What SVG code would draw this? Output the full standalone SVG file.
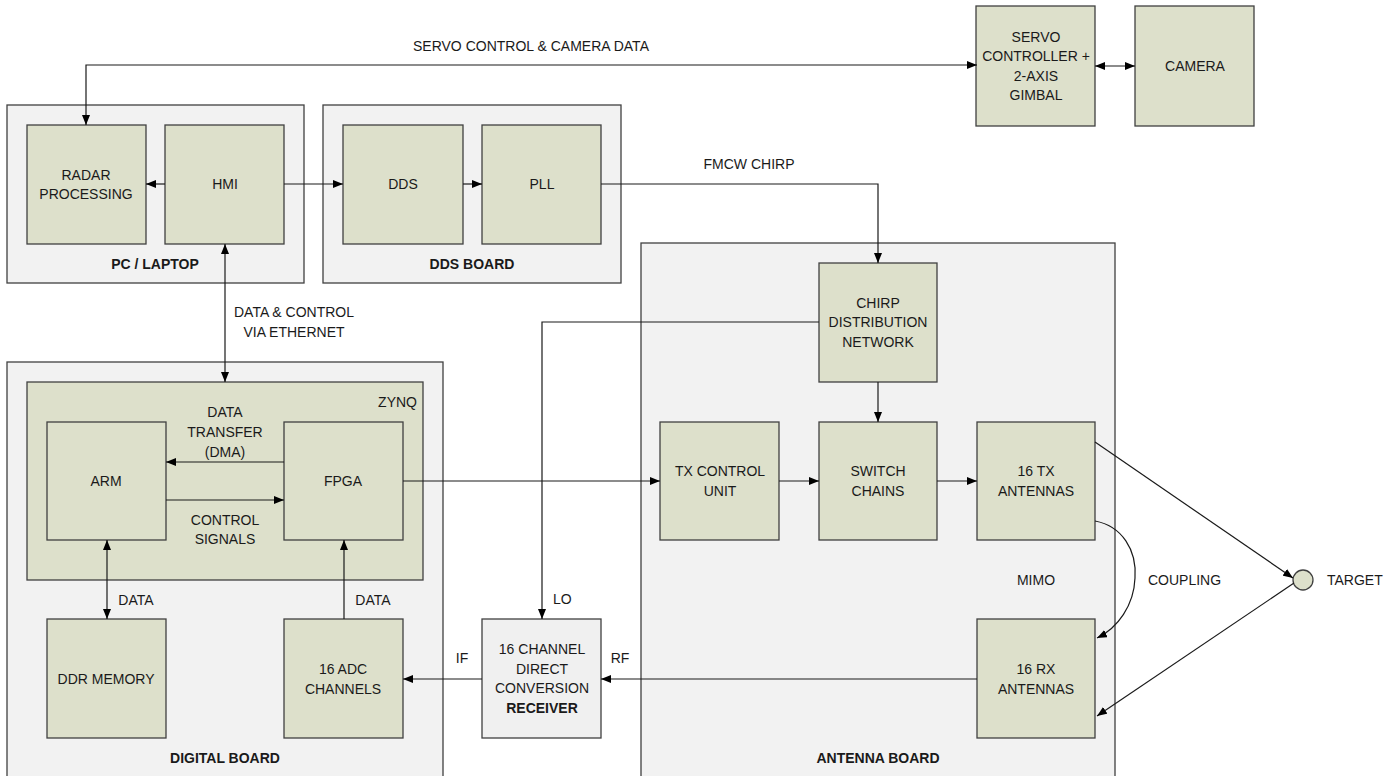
<svg xmlns="http://www.w3.org/2000/svg" width="1393" height="776" viewBox="0 0 1393 776">
<style>
.bg{fill:#f2f2f2;stroke:#404040;stroke-width:1.3}
.nd{fill:#dde0cb;stroke:#404040;stroke-width:1.3}
.rx{fill:#f0f0f0;stroke:#404040;stroke-width:1.3}
text{font-family:"Liberation Sans",Arial,sans-serif;font-size:14px;fill:#1a1a1a;text-anchor:middle}
.b{font-weight:bold}
.l{text-anchor:start}
.r{text-anchor:end}
.c{fill:none;stroke:#1a1a1a;stroke-width:1.2}
</style>
<defs>
<marker id="a" viewBox="0 0 10 8" refX="10" refY="4" markerWidth="10" markerHeight="8" markerUnits="userSpaceOnUse" orient="auto-start-reverse">
<path d="M0,0 L10,4 L0,8 z" fill="#000"/>
</marker>
</defs>
<rect width="1393" height="776" fill="#fff"/>

<g id="pc-laptop">
<rect class="bg" x="7" y="105" width="297" height="178"/>
<text class="b" x="155" y="269">PC / LAPTOP</text>
</g>
<g id="dds-board">
<rect class="bg" x="323" y="105" width="298" height="178"/>
<text class="b" x="472" y="269">DDS BOARD</text>
</g>
<g id="digital-board">
<rect class="bg" x="7" y="362" width="436" height="420"/>
<text class="b" x="225" y="763">DIGITAL BOARD</text>
</g>
<g id="antenna-board">
<rect class="bg" x="641" y="243" width="474" height="540"/>
<text class="b" x="878" y="763">ANTENNA BOARD</text>
<text x="1036" y="585">MIMO</text>
</g>
<g id="zynq">
<rect class="nd" x="27" y="382" width="396" height="198"/>
<text class="r" x="417" y="407">ZYNQ</text>
</g>

<g id="radar-processing">
<rect class="nd" x="27" y="125" width="119" height="119"/>
<text x="86" y="180">RADAR</text>
<text x="86" y="199">PROCESSING</text>
</g>
<g id="hmi">
<rect class="nd" x="165" y="125" width="119" height="119"/>
<text x="225" y="189">HMI</text>
</g>
<g id="dds">
<rect class="nd" x="343" y="125" width="120" height="119"/>
<text x="403" y="189">DDS</text>
</g>
<g id="pll">
<rect class="nd" x="482" y="125" width="119" height="119"/>
<text x="542" y="189">PLL</text>
</g>
<g id="servo">
<rect class="nd" x="976" y="6" width="119" height="120"/>
<text x="1036" y="42">SERVO</text>
<text x="1036" y="61">CONTROLLER +</text>
<text x="1036" y="81">2-AXIS</text>
<text x="1036" y="100">GIMBAL</text>
</g>
<g id="camera">
<rect class="nd" x="1135" y="6" width="119" height="120"/>
<text x="1195" y="71">CAMERA</text>
</g>
<g id="arm">
<rect class="nd" x="47" y="422" width="119" height="118"/>
<text x="106" y="486">ARM</text>
</g>
<g id="fpga">
<rect class="nd" x="284" y="422" width="119" height="118"/>
<text x="343" y="486">FPGA</text>
</g>
<g id="ddr-memory">
<rect class="nd" x="47" y="619" width="119" height="119"/>
<text x="106" y="684">DDR MEMORY</text>
</g>
<g id="adc">
<rect class="nd" x="284" y="619" width="119" height="119"/>
<text x="343" y="674">16 ADC</text>
<text x="343" y="694">CHANNELS</text>
</g>
<g id="receiver">
<rect class="rx" x="482" y="619" width="119" height="119"/>
<text x="542" y="654">16 CHANNEL</text>
<text x="542" y="674">DIRECT</text>
<text x="542" y="693">CONVERSION</text>
<text class="b" x="542" y="713">RECEIVER</text>
</g>
<g id="chirp-distribution">
<rect class="nd" x="819" y="263" width="118" height="119"/>
<text x="878" y="308">CHIRP</text>
<text x="878" y="327">DISTRIBUTION</text>
<text x="878" y="347">NETWORK</text>
</g>
<g id="tx-control">
<rect class="nd" x="660" y="422" width="119" height="118"/>
<text x="720" y="476">TX CONTROL</text>
<text x="720" y="496">UNIT</text>
</g>
<g id="switch-chains">
<rect class="nd" x="819" y="422" width="118" height="118"/>
<text x="878" y="476">SWITCH</text>
<text x="878" y="496">CHAINS</text>
</g>
<g id="tx-antennas">
<rect class="nd" x="977" y="422" width="118" height="118"/>
<text x="1036" y="476">16 TX</text>
<text x="1036" y="496">ANTENNAS</text>
</g>
<g id="rx-antennas">
<rect class="nd" x="977" y="619" width="118" height="119"/>
<text x="1036" y="674">16 RX</text>
<text x="1036" y="694">ANTENNAS</text>
</g>
<g id="target">
<circle cx="1303" cy="580" r="10" class="nd"/>
<text class="l" x="1327" y="585">TARGET</text>
</g>

<g id="connectors">
<path class="c" d="M977,65 H86 V125" marker-start="url(#a)" marker-end="url(#a)"/>
<text x="531" y="51">SERVO CONTROL &amp; CAMERA DATA</text>
<path class="c" d="M1095,66 H1135" marker-start="url(#a)" marker-end="url(#a)"/>
<path class="c" d="M165,184 H146" marker-end="url(#a)"/>
<path class="c" d="M284,184 H343" marker-end="url(#a)"/>
<path class="c" d="M463,184 H482" marker-end="url(#a)"/>
<path class="c" d="M601,184 H878 V263" marker-end="url(#a)"/>
<text x="749" y="169">FMCW CHIRP</text>
<path class="c" d="M225,244 V382" marker-start="url(#a)" marker-end="url(#a)"/>
<text x="294" y="317">DATA &amp; CONTROL</text>
<text x="294" y="337">VIA ETHERNET</text>
<path class="c" d="M284,462 H166" marker-end="url(#a)"/>
<text x="225" y="417">DATA</text>
<text x="225" y="437">TRANSFER</text>
<text x="225" y="457">(DMA)</text>
<path class="c" d="M166,500 H284" marker-end="url(#a)"/>
<text x="225" y="525">CONTROL</text>
<text x="225" y="544">SIGNALS</text>
<path class="c" d="M107,540 V619" marker-start="url(#a)" marker-end="url(#a)"/>
<text x="136" y="605">DATA</text>
<path class="c" d="M344,619 V540" marker-end="url(#a)"/>
<text x="373" y="605">DATA</text>
<path class="c" d="M403,481 H660" marker-end="url(#a)"/>
<path class="c" d="M779,481 H819" marker-end="url(#a)"/>
<path class="c" d="M937,481 H977" marker-end="url(#a)"/>
<path class="c" d="M878,382 V422" marker-end="url(#a)"/>
<path class="c" d="M819,322 H542 V619" marker-end="url(#a)"/>
<text class="l" x="553" y="604">LO</text>
<path class="c" d="M977,679 H601" marker-end="url(#a)"/>
<text x="620" y="663">RF</text>
<path class="c" d="M482,679 H403" marker-end="url(#a)"/>
<text x="462" y="663">IF</text>
<path class="c" d="M1095,442 L1293,578" marker-end="url(#a)"/>
<path class="c" d="M1294,583 L1097,716" marker-end="url(#a)"/>
<path class="c" d="M1095,521 C1122,526 1137,550 1135,578 C1134,605 1118,628 1097,638" marker-end="url(#a)"/>
<text class="l" x="1148" y="585">COUPLING</text>
</g>
</svg>
